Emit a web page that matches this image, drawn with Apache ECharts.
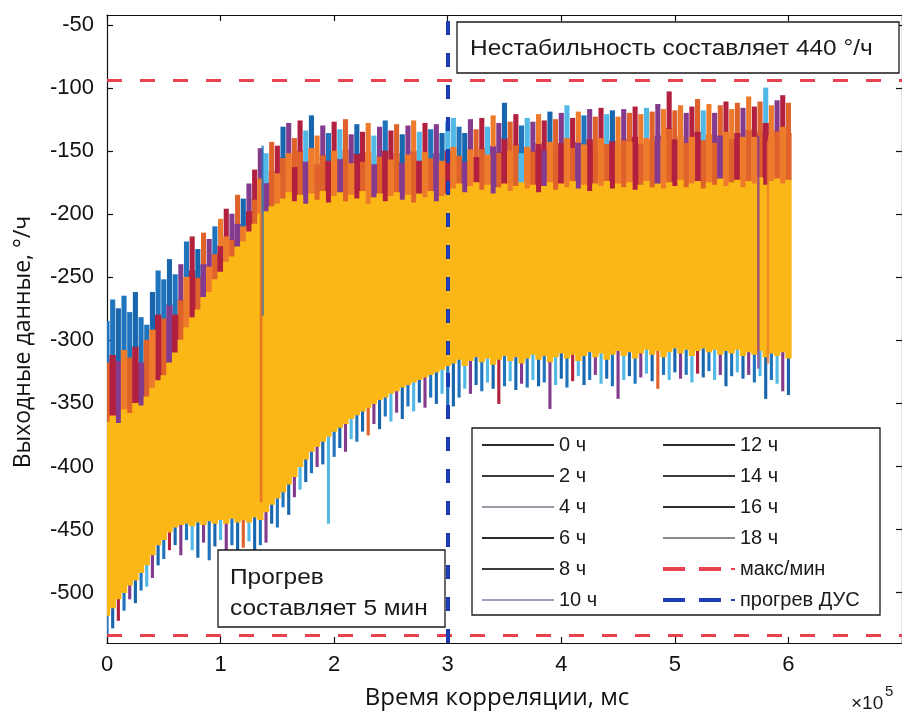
<!DOCTYPE html>
<html><head><meta charset="utf-8">
<script src="https://cdn.jsdelivr.net/npm/echarts@6/dist/echarts.min.js"></script>
<style>html,body{margin:0;padding:0;background:#fff}#c{width:902px;height:719px}</style>
</head><body><div id="c"></div>
<script>
// ---- data ----
const hours = ['0 ч','2 ч','4 ч','6 ч','8 ч','10 ч','12 ч','14 ч','16 ч','18 ч'];
const timeMs = [
0,5000,10000,15000,20000,25000,30000,35000,40000,45000,
50000,55000,60000,65000,70000,75000,80000,85000,90000,95000,
100000,105000,110000,115000,120000,125000,130000,135000,140000,145000,
150000,155000,160000,165000,170000,175000,180000,185000,190000,195000,
200000,205000,210000,215000,220000,225000,230000,235000,240000,245000,
250000,255000,260000,265000,270000,275000,280000,285000,290000,295000,
300000,305000,310000,315000,320000,325000,330000,335000,340000,345000,
350000,355000,360000,365000,370000,375000,380000,385000,390000,395000,
400000,405000,410000,415000,420000,425000,430000,435000,440000,445000,
450000,455000,460000,465000,470000,475000,480000,485000,490000,495000,
500000,505000,510000,515000,520000,525000,530000,535000,540000,545000,
550000,555000,560000,565000,570000,575000,580000,585000,590000,595000,
600000];
// highest spikes of all records
const upperTip = [
-285,-268,-275,-265,-278,-262,-282,-288,-262,-245,
-252,-236,-248,-240,-222,-218,-228,-215,-220,-210,
-204,-196,-200,-185,-188,-176,-165,-148,-152,-143,
-146,-131,-128,-140,-126,-134,-122,-138,-130,-136,
-127,-133,-125,-137,-129,-135,-128,-138,-131,-126,
-134,-129,-137,-130,-126,-135,-128,-133,-129,-136,
-127,-124,-131,-136,-125,-133,-124,-131,-122,-128,
-112,-127,-121,-130,-124,-127,-121,-126,-119,-125,
-120,-114,-124,-119,-122,-117,-123,-116,-121,-118,
-123,-117,-120,-115,-121,-116,-119,-113,-117,-103,
-118,-114,-120,-115,-109,-118,-113,-120,-114,-111,
-117,-112,-116,-107,-115,-111,-100,-114,-110,-106,
-112];
// lower edge of the spike tips zone
const upperMid = [
-318,-312,-316,-308,-314,-305,-318,-300,-292,-280,
-283,-272,-280,-268,-250,-245,-250,-240,-242,-232,
-225,-218,-220,-208,-210,-198,-188,-172,-175,-166,
-168,-155,-152,-163,-150,-158,-148,-160,-153,-158,
-150,-156,-149,-160,-152,-158,-151,-160,-154,-150,
-157,-152,-159,-153,-150,-158,-151,-156,-152,-158,
-150,-147,-154,-158,-149,-155,-148,-153,-146,-151,
-140,-150,-145,-152,-147,-150,-144,-149,-143,-148,
-144,-140,-147,-143,-145,-141,-146,-140,-144,-142,
-146,-141,-143,-139,-144,-140,-142,-138,-141,-132,
-141,-138,-143,-139,-135,-141,-137,-143,-138,-135,
-140,-136,-139,-133,-139,-135,-128,-138,-134,-131,
-136];
// top of the 18 ч band
const coreTop = [
-365,-360,-366,-355,-358,-350,-352,-345,-338,-332,
-328,-318,-310,-300,-290,-282,-276,-266,-262,-252,
-246,-238,-234,-226,-222,-214,-208,-200,-198,-194,
-192,-188,-183,-190,-185,-192,-184,-189,-182,-191,
-186,-183,-190,-185,-188,-182,-192,-187,-184,-190,
-186,-183,-189,-185,-191,-184,-187,-182,-190,-186,
-184,-180,-176,-183,-178,-175,-181,-177,-184,-179,
-176,-182,-178,-175,-180,-177,-183,-178,-175,-181,
-176,-179,-174,-180,-177,-182,-176,-178,-174,-180,
-176,-179,-175,-181,-177,-174,-179,-176,-180,-175,
-178,-173,-179,-176,-174,-180,-175,-177,-172,-178,
-175,-173,-179,-174,-176,-171,-177,-174,-172,-176,
-173];
// bottom of the 18 ч band
const coreBottom = [
-518,-512,-505,-500,-494,-490,-484,-478,-470,-462,
-458,-452,-448,-446,-445,-447,-444,-446,-443,-445,
-442,-445,-441,-444,-442,-444,-440,-442,-436,-430,
-425,-420,-414,-408,-400,-394,-388,-384,-380,-376,
-372,-369,-366,-362,-359,-356,-353,-350,-347,-345,
-342,-340,-337,-335,-333,-331,-329,-327,-325,-323,
-320,-318,-315,-320,-316,-313,-317,-314,-319,-315,
-312,-316,-313,-318,-314,-311,-315,-312,-317,-313,
-310,-314,-311,-316,-312,-309,-313,-310,-315,-311,
-308,-312,-309,-314,-310,-307,-311,-308,-313,-309,
-306,-310,-307,-312,-308,-306,-309,-307,-311,-308,
-310,-307,-312,-309,-311,-308,-313,-310,-312,-309,
-314];
// lowest spikes of all records
const lowerTip = [
-535,-528,-522,-514,-505,-508,-498,-495,-488,-478,
-473,-466,-462,-470,-458,-466,-472,-460,-474,-463,
-458,-470,-462,-475,-464,-459,-470,-462,-460,-445,
-448,-432,-438,-424,-418,-412,-405,-400,-398,-445,
-392,-385,-388,-378,-380,-372,-375,-366,-370,-360,
-364,-357,-362,-352,-356,-349,-353,-345,-350,-342,
-352,-352,-345,-338,-342,-335,-340,-333,-338,-350,
-336,-332,-339,-334,-337,-331,-336,-333,-354,-335,
-330,-337,-332,-328,-335,-331,-327,-334,-330,-336,
-346,-331,-328,-334,-329,-326,-332,-338,-327,-331,
-325,-330,-327,-333,-326,-329,-324,-331,-327,-336,
-328,-325,-330,-327,-333,-328,-346,-331,-334,-340,
-343];
// which record (index into hours) shows at each place
const upperOuterSeries = [
0,0,7,0,0,7,0,0,7,0, 0,7,0,3,0,6,7,1,3,0, 8,6,3,1,7,3,6,3,5,1,
6,7,3,1,6,5,7,8,3,0, 6,5,1,3,7,6,8,5,3,0, 6,1,7,3,8,5,6,0,3,7,
5,5,0,7,3,1,6,5,8,3, 7,1,6,0,5,3,8,6,7,1, 3,5,6,8,0,3,1,6,5,7,
8,3,1,6,8,5,1,3,8,6, 1,8,3,6,1,5,8,3,1,6, 8,1,3,8,6,1,5,8,3,6, 1];
const upperInnerSeries = [
1,6,3,8,1,6,3,1,8,6, 1,3,6,1,8,6,1,3,8,1, 6,8,1,3,8,6,1,8,3,1,
8,1,8,6,1,3,8,1,1,6, 8,3,1,8,6,1,8,3,1,6, 8,1,3,8,1,6,8,1,3,8,
6,8,1,3,8,6,1,8,3,1, 6,8,1,5,8,1,6,3,8,1, 6,8,1,3,8,6,1,8,1,6,
8,1,8,6,1,8,1,3,8,1, 6,8,1,8,6,1,8,1,3,8, 1,6,8,1,8,1,6,8,1,8, 1];
const lowerSeries = [
0,7,6,0,3,7,0,5,3,7, 0,6,7,3,0,5,7,3,0,7, 5,3,0,7,1,5,7,0,3,7,
0,0,7,3,5,7,0,3,7,5, 0,7,3,5,0,7,1,3,7,0, 5,3,7,0,5,7,3,0,7,5,
0,7,0,5,3,7,0,5,7,6, 0,5,7,3,0,5,7,0,3,5, 7,0,6,5,7,0,3,5,7,0,
3,5,7,0,3,5,7,1,0,5, 7,3,0,5,6,7,0,5,3,7, 0,5,7,3,0,5,7,0,5,3, 7];
const coreSeries = 9;
// single long glitches
const glitchTime = [135700, 137000, 573500, 582000];
const glitchLow  = [-428, -280, -322, -318];
const glitchHigh = [-200, -146, -138, -142];
const glitchSeries = [1, 0, 3, 8];
const maxLevel = -94;
const minLevel = -534;
const warmupMs = 300000;
const xTicks = [0,100000,200000,300000,400000,500000,600000,700000];
const xLabelValues = [0,100000,200000,300000,400000,500000,600000];
const yTicks = [-500,-450,-400,-350,-300,-250,-200,-150,-100,-50];

// ---- styles ----
const hourColors = ['#1f74bd','#e0622b','#eeb322','#843b8d','#7fae36','#52b8e6','#b2203f','#1766ae','#ee7a2c','#fab716'];
const legendColors = ['#2a2a2a','#3a3a3a','#9a9aa6','#2a2a2a','#3a3a3a','#9aa0c4','#2a2a2a','#3a3a3a','#2f2f2f','#8a8a92'];
const STEP = 5000;
const layerWidth = [1, 1, 0.9, 0.55, 0.45];

const perHour = hours.map(() => []);
for (let i = 0; i < timeMs.length; i++) {
  perHour[coreSeries].push([timeMs[i], coreBottom[i], coreTop[i], 0]);
  perHour[upperInnerSeries[i]].push([timeMs[i], coreTop[i], upperMid[i], 1]);
  perHour[upperOuterSeries[i]].push([timeMs[i], upperMid[i], upperTip[i], 2]);
  perHour[lowerSeries[i]].push([timeMs[i], lowerTip[i], coreBottom[i], 3]);
}
for (let g = 0; g < glitchTime.length; g++) {
  perHour[glitchSeries[g]].push([glitchTime[g], glitchLow[g], glitchHigh[g], 4]);
}

function renderRange(params, api) {
  const t = api.value(0), lo = api.value(1), hi = api.value(2), layer = api.value(3);
  const half = STEP / 2 * layerWidth[layer];
  const a = api.coord([t - half, hi]);
  const b = api.coord([t + half, lo]);
  const pad = layer < 2 ? 0.7 : 0;
  return {
    type: 'rect',
    z2: layer === 4 ? 10 : 0,
    shape: { x: a[0] - pad / 2, y: a[1] - 0.5, width: b[0] - a[0] + pad, height: b[1] - a[1] + 1 },
    style: { fill: api.visual('color'), opacity: layer === 4 ? 0.75 : 1 }
  };
}

const series = hours.map((h, k) => ({
  name: h, type: 'custom', renderItem: renderRange, data: perHour[k],
  dimensions: ['t', 'lo', 'hi', 'layer'], encode: { x: 0, y: [1, 2] },
  clip: true, silent: true, animation: false, z: 2,
  itemStyle: { color: hourColors[k] }
}));
series.push({
  name: 'макс/мин', type: 'line', data: [], z: 5, animation: false,
  itemStyle: { color: '#e8414f' }, lineStyle: { color: '#e8414f', type: [15, 18], width: 3 },
  markLine: { symbol: 'none', silent: true, animation: false, label: { show: false },
    lineStyle: { color: '#e8414f', type: [15, 18], width: 3 },
    data: [{ yAxis: maxLevel }, { yAxis: minLevel }] }
});
series.push({
  name: 'прогрев ДУС', type: 'line', data: [], z: 6, animation: false,
  itemStyle: { color: '#1b3db5' }, lineStyle: { color: '#1b3db5', type: [14, 18], width: 4 },
  markLine: { symbol: 'none', silent: true, animation: false, label: { show: false },
    lineStyle: { color: '#1b3db5', type: [14, 18], width: 4 },
    data: [{ xAxis: warmupMs }] }
});

const solidIcon = 'path://M0,0H72V2H0Z';
const dashIcon = 'path://M0,0H22V4H0ZM36,0H58V4H36ZM68,1H72V3H68Z';
function legendItem(name) {
  const k = hours.indexOf(name);
  if (k >= 0) return { name, icon: solidIcon, itemStyle: { color: legendColors[k] } };
  if (name === 'макс/мин') return { name, icon: dashIcon, itemStyle: { color: '#e8414f' } };
  return { name, icon: dashIcon, itemStyle: { color: '#1b3db5' } };
}
const legendBase = {
  orient: 'vertical', padding: 0, itemWidth: 72, itemHeight: 14, itemGap: 11,
  selectedMode: false, z: 20,
  textStyle: { fontSize: 20, color: '#1a1a1a', fontFamily: 'Liberation Sans' }
};

const axisLineStyle = { color: '#111', width: 1.2 };
const textScale = 1.11;
const chart = echarts.init(document.getElementById('c'), null, { renderer: 'canvas' });
chart.setOption({
  animation: false,
  backgroundColor: '#fff',
  grid: { left: 107, top: 15, width: 797, height: 628 },
  xAxis: [{
    type: 'value', min: 0, max: 700000, position: 'bottom',
    axisLine: { show: true, onZero: false, lineStyle: axisLineStyle },
    axisTick: { show: true, inside: true, length: 6, customValues: xTicks, lineStyle: axisLineStyle },
    axisLabel: { customValues: xLabelValues, formatter: v => String(v / 100000), fontSize: 22, color: '#111', fontFamily: 'Liberation Sans', margin: 11 },
    splitLine: { show: false },
    name: 'Время корреляции, мс', nameLocation: 'middle', nameGap: 43,
    nameTextStyle: { fontSize: 24, color: '#111', fontFamily: 'Open Sans', padding: [0, 15, 0, 0] }
  }, {
    type: 'value', min: 0, max: 700000, position: 'top',
    axisLine: { show: true, onZero: false, lineStyle: axisLineStyle },
    axisTick: { show: true, inside: true, length: 6, customValues: xTicks, lineStyle: axisLineStyle },
    axisLabel: { show: false }, splitLine: { show: false }
  }],
  yAxis: [{
    type: 'value', min: -540, max: -42, position: 'left',
    axisLine: { show: true, onZero: false, lineStyle: axisLineStyle },
    axisTick: { show: true, inside: true, length: 6, customValues: yTicks, lineStyle: axisLineStyle },
    axisLabel: { customValues: yTicks, fontSize: 22, color: '#111', fontFamily: 'Liberation Sans', margin: 13 },
    splitLine: { show: false },
    name: 'Выходные данные, °/ч', nameLocation: 'middle', nameGap: 72,
    nameTextStyle: { fontSize: 23, color: '#111', fontFamily: 'Open Sans', padding: [0, 26, 0, 0] }
  }, {
    type: 'value', min: -540, max: -42, position: 'right',
    axisLine: { show: true, onZero: false, lineStyle: axisLineStyle },
    axisTick: { show: true, inside: true, length: 6, customValues: yTicks, lineStyle: axisLineStyle },
    axisLabel: { show: false }, splitLine: { show: false }
  }],
  legend: [
    Object.assign({}, legendBase, { left: 482, top: 435, data: ['0 ч','2 ч','4 ч','6 ч','8 ч','10 ч'].map(legendItem) }),
    Object.assign({}, legendBase, { left: 663, top: 435, data: ['12 ч','14 ч','16 ч','18 ч','макс/мин','прогрев ДУС'].map(legendItem) })
  ],
  graphic: [
    { type: 'rect', z: 15, shape: { x: 472, y: 428, width: 408, height: 187 }, style: { fill: '#fff', stroke: '#1a1a1a', lineWidth: 1.3 } },
    { type: 'rect', z: 15, shape: { x: 457, y: 22, width: 442, height: 51 }, style: { fill: '#fff', stroke: '#1a1a1a', lineWidth: 1.3 } },
    { type: 'text', z: 16, x: 470, y: 49, scaleX: textScale, style: { text: 'Нестабильность составляет 440 °/ч', fontSize: 22, fontFamily: 'Liberation Sans', fill: '#1a1a1a', verticalAlign: 'middle' } },
    { type: 'rect', z: 15, shape: { x: 218, y: 550, width: 227, height: 77 }, style: { fill: '#fff', stroke: '#1a1a1a', lineWidth: 1.3 } },
    { type: 'text', z: 16, x: 230, y: 578, scaleX: textScale, style: { text: 'Прогрев', fontSize: 22, fontFamily: 'Liberation Sans', fill: '#1a1a1a', verticalAlign: 'middle' } },
    { type: 'text', z: 16, x: 230, y: 609, scaleX: textScale, style: { text: 'составляет 5 мин', fontSize: 22, fontFamily: 'Liberation Sans', fill: '#1a1a1a', verticalAlign: 'middle' } },
    { type: 'text', z: 16, x: 851, y: 704, style: { text: '×10', fontSize: 19, fontFamily: 'Liberation Sans', fill: '#1a1a1a', verticalAlign: 'middle' } },
    { type: 'text', z: 16, x: 885, y: 692, style: { text: '5', fontSize: 15, fontFamily: 'Liberation Sans', fill: '#1a1a1a', verticalAlign: 'middle' } }
  ],
  series: series
});
</script>
</body></html>
